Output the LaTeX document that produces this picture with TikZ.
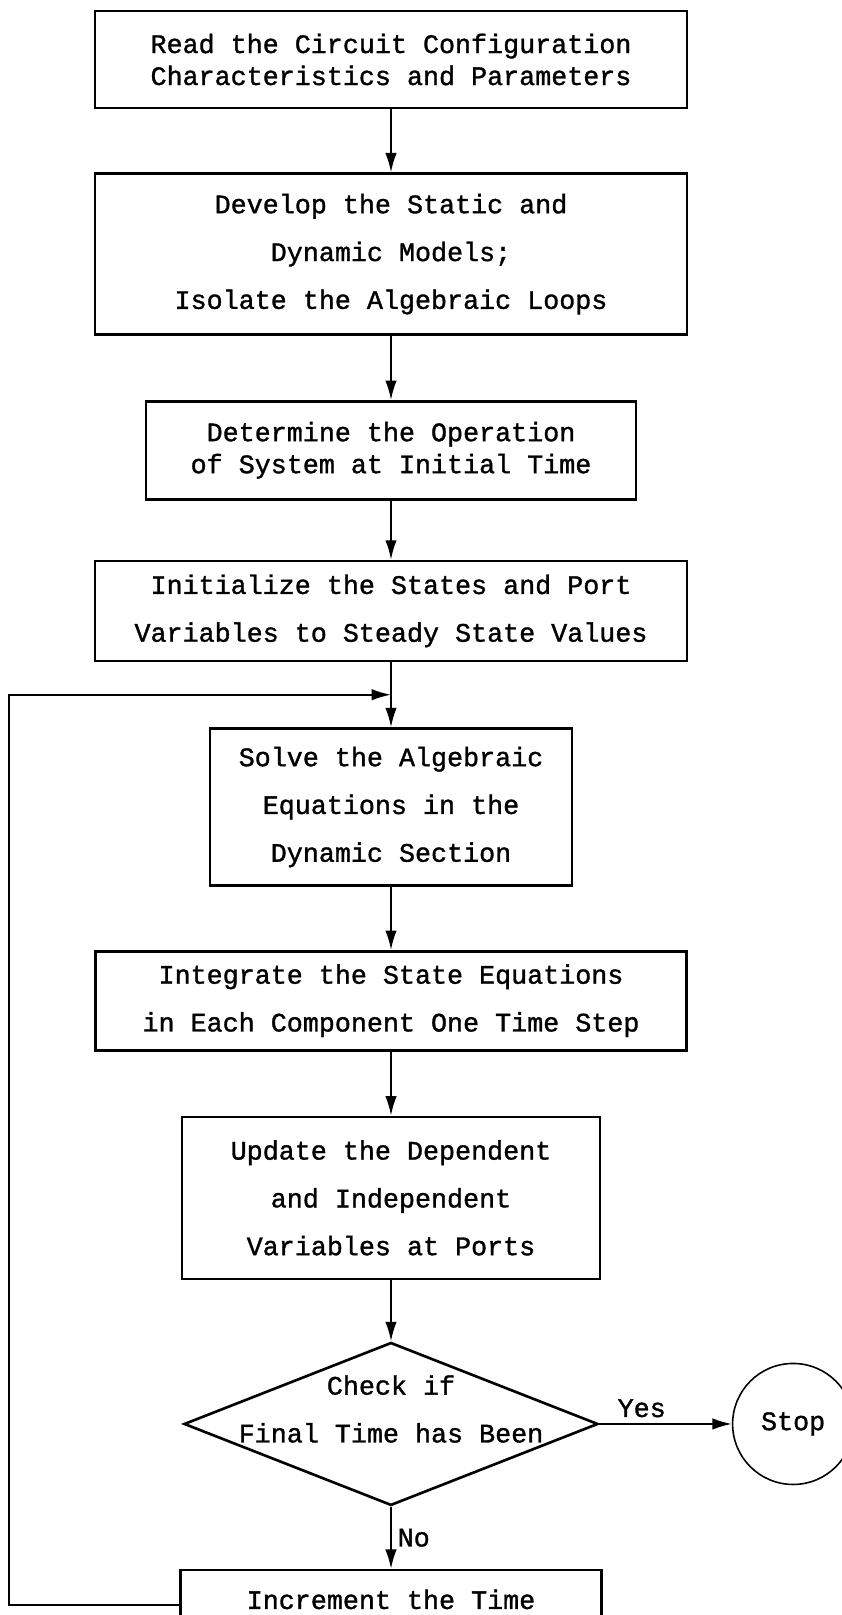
\documentclass[tikz,border=0pt]{standalone}
\usepackage{fontspec}
\newfontfamily\typefont[FakeBold=1.2]{Liberation Mono}
\usepackage{tikz}
\usetikzlibrary{arrows.meta,positioning,shapes.geometric}

\begin{document}
\begin{tikzpicture}[node distance=1.25cm and 2.6cm, every node/.style={font=\typefont\fontsize{15.2}{27.2}\selectfont}, >={Latex[length=11pt,width=6.5pt]}]
\tikzstyle{block}=[draw, line width=1.5pt, align=center, inner sep=0pt, minimum width=11.84cm]
\tikzstyle{tight}=[font=\typefont\fontsize{15.2}{18.2}\selectfont]
\tikzstyle{decision}=[draw, diamond, line width=1.5pt, inner sep=0pt, minimum width=8.28cm, minimum height=3.26cm]
\tikzstyle{term}=[draw, circle, line width=0.9pt, inner sep=0pt, minimum size=2.42cm]
\tikzstyle{flow}=[->, line width=1pt]
\useasboundingbox (0,0) rectangle (16.84,-32.3);
\node[block, tight, minimum height=1.94cm] (read) at (7.82,-1.19) {Read the Circuit Configuration\\Characteristics and Parameters};
\node[block, minimum height=3.22cm, below=1.26cm of read] (models) {Develop the Static and\\Dynamic Models;\\Isolate the Algebraic Loops};
\node[block, tight, minimum width=9.8cm, minimum height=1.96cm, below=1.28cm of models] (oper) {Determine the Operation\\of System at Initial Time};
\node[block, minimum height=2cm, below=1.18cm of oper] (init) {Initialize the States and Port\\Variables to Steady State Values};
\node[block, minimum width=7.24cm, minimum height=3.14cm, below=1.3cm of init] (solve) {Solve the Algebraic\\Equations in the\\Dynamic Section};
\node[block, minimum width=11.82cm, minimum height=1.98cm, below=1.26cm of solve] (integ) {Integrate the State Equations\\in Each Component One Time Step};
\node[block, minimum width=8.36cm, minimum height=3.24cm, below=1.28cm of integ] (update) {Update the Dependent\\and Independent\\Variables at Ports};
\node[decision, below=1.22cm of update] (check) {};
\node[align=center, yshift=0.3cm] (checktext) at (check.center) {Check if\\Final Time has Been};
\node[term, right=2.65cm of check] (stop) {Stop};
\node[block, minimum width=8.42cm, minimum height=2cm, text height=22pt, text depth=34.7pt, below=1.24cm of check] (incr) {Increment the Time};
\coordinate[below=0.65cm of init] (join);
\draw[flow] (read) -- (models);
\draw[flow] (models) -- (oper);
\draw[flow] (oper) -- (init);
\draw[flow] (init) -- (solve);
\draw[flow] (solve) -- (integ);
\draw[flow] (integ) -- (update);
\draw[flow] (update) -- (check);
\draw[flow] (check) -- node[above, pos=0.32] (yes) {Yes} (stop);
\draw[flow] (check) -- node[right] (no) {No} (incr);
\draw[flow] (incr.mid west) -- ++(-3.4,0) |- (join);
\end{tikzpicture}
\end{document}
